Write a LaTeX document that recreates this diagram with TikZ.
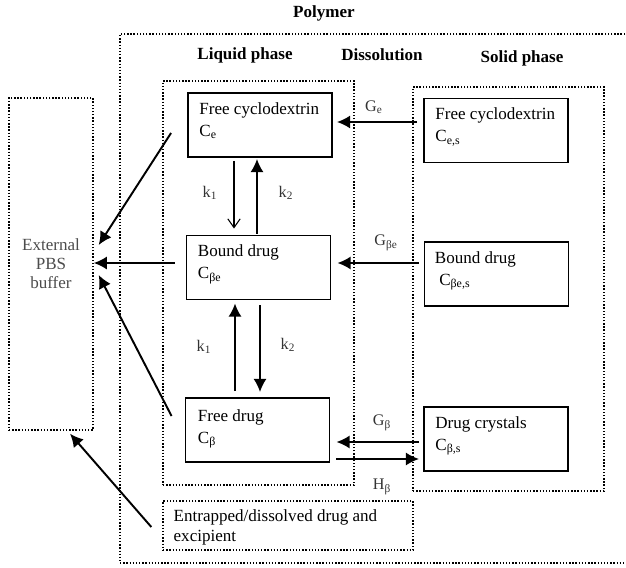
\documentclass[tikz,border=0pt]{standalone}
\usepackage{fontspec}
\setmainfont{Liberation Serif}
\usetikzlibrary{arrows.meta,positioning,calc}
\tikzstyle{cbox} = [draw, line width=1.1pt, inner sep=0pt, minimum width=2.88cm, minimum height=1.28cm]
\tikzstyle{dbox} = [draw, densely dotted, line width=0.8pt, inner sep=0pt]
\tikzstyle{btext} = [anchor=north west, inner sep=0pt, align=left, font=\fontsize{9.7}{12.5}\selectfont]
\tikzstyle{head} = [inner sep=0pt, font=\bfseries\fontsize{9.7}{12}\selectfont]
\tikzstyle{rate} = [inner sep=0pt, text=black!80, font=\fontsize{9.2}{11}\selectfont]
\tikzstyle{arr} = [draw, line width=1.1pt, -{Latex[length=7.5pt,width=7.5pt]}]
\tikzstyle{thinarr} = [draw, line width=0.6pt, -{Straight Barb[length=5pt,width=7pt]}]

\begin{document}
\begin{tikzpicture}[x=0.02cm, y=-0.02cm]
			\useasboundingbox (0,0) rectangle (626,568);
			% dotted compartments
			\node [dbox, minimum width=10.8cm, minimum height=10.58cm] (pol) at (390,298.5) {};
			\node [dbox, minimum width=3.82cm, minimum height=8.08cm] (liq) at (258.5,283) {};
			\node [dbox, minimum width=3.82cm, minimum height=8.08cm] (sol) at (508.5,289) {};
			\node [dbox, minimum width=1.68cm, minimum height=6.64cm, align=center, text=black!70,
			       font=\fontsize{9.7}{10.9}\selectfont] (ext) at (51,264) {External\\PBS\\buffer};
			\node [dbox, minimum width=5cm, minimum height=0.98cm] (ent) at (288,525.5) {};
			\node [btext, anchor=west, font=\fontsize{9.7}{11.4}\selectfont] (entt) at ($(ent.west)+(11,1.5)$) {Entrapped/dissolved drug and\\excipient};
			
			% headings
			\node [head] (polt) at (324,13) {Polymer};
			\node [head] (liqt) at (245,55) {Liquid phase};
			\node [head] (dist) at (382,55) {Dissolution};
			\node [head] (solt) at (522,58) {Solid phase};
			
			% species
			\node [cbox] (fcl) at (260,125) {};
			\node [cbox] (bdl) at (258.5,267.5) {};
			\node [cbox] (fdl) at (257.5,430) {};
			\node [cbox] (fcs) at (496,130.5) {};
			\node [cbox] (bds) at (496.5,274) {};
			\node [cbox] (dcs) at (496,439) {};
			\node [btext] (fclt) at ($(fcl.north west)+(12,10)$) {Free cyclodextrin\\C\textsubscript{e}};
			\node [btext] (bdlt) at ($(bdl.north west)+(12,10)$) {Bound drug\\C\textsubscript{βe}};
			\node [btext] (fdlt) at ($(fdl.north west)+(13,12)$) {Free drug\\C\textsubscript{β}};
			\node [btext] (fcst) at ($(fcs.north west)+(12,10)$) {Free cyclodextrin\\C\textsubscript{e,s}};
			\node [btext] (bdst) at ($(bds.north west)+(11,10)$) {Bound drug\\\hspace*{2.5pt}C\textsubscript{βe,s}};
			\node [btext] (dcst) at ($(dcs.north west)+(12,10)$) {Drug crystals\\C\textsubscript{β,s}};
			
			% rate labels
			\node [rate] (k1a) at (210,193) {k\textsubscript{1}};
			\node [rate] (k2a) at (286,193) {k\textsubscript{2}};
			\node [rate] (k1b) at (204,347) {k\textsubscript{1}};
			\node [rate] (k2b) at (288,345) {k\textsubscript{2}};
			\node [rate] (ge) at (374,107) {G\textsubscript{e}};
			\node [rate] (gbe) at (386,243) {G\textsubscript{βe}};
			\node [rate] (gb) at (382,423) {G\textsubscript{β}};
			\node [rate] (hb) at (382,487) {H\textsubscript{β}};
			
			% complexation
			\path [thinarr] ($(fcl.south)+(-26,3)$) -- ($(bdl.north)+(-24.5,-6)$);
			\path [arr] ($(bdl.north)+(-1.5,-1)$) -- ($(fcl.south)+(-3,1)$);
			\path [arr] ($(fdl.north)+(-22.5,-6)$) -- ($(bdl.south)+(-23.5,3)$);
			\path [arr] ($(bdl.south)+(1.5,5)$) -- ($(fdl.north)+(2.5,-5)$);
			
			% dissolution
			\path [arr] ($(fcs.west)+(-6,-8.5)$) -- ($(fcl.east)+(4,-3)$);
			\path [arr] ($(bds.west)+(-5,-11)$) -- ($(bdl.east)+(6,-4.5)$);
			\path [arr] ($(dcs.west)+(-4,3)$) -- ($(fdl.east)+(6,12)$);
			\path [arr] ($(fdl.east)+(6,29)$) -- ($(dcs.west)+(-4,20)$);
			
			% release
			\path [arr] ($(fcl.west)+(-16,8)$) -- ($(ext.east)+(5,-19)$);
			\path [arr] ($(bdl.west)+(-11,-4.5)$) -- ($(ext.east)+(0,-1)$);
			\path [arr] ($(fdl.west)+(-13,-14)$) -- ($(ext.east)+(5,11)$);
			\path [arr] ($(ent.west)+(-11,1.5)$) -- ($(ext.south)+(19,3)$);
		\end{tikzpicture}
\end{document}
